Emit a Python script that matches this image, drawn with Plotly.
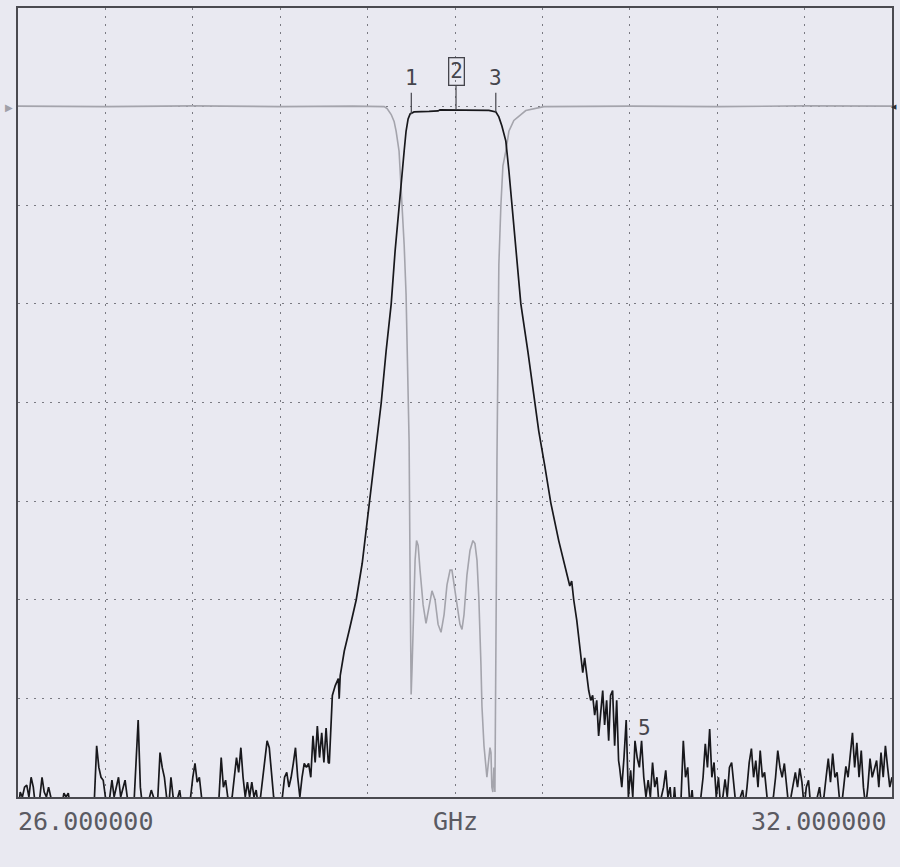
import numpy as np
import plotly.graph_objects as go

# ---------------- data (GHz / dB) ----------------
F_START, F_STOP = 26.0, 32.0

# S21 noise floor, left of the passband (uniform sweep points)
s21_noise_left_span = (26.0, 28.13)
s21_noise_left_db = [
    -72, -69.5, -70, -69, -68.8, -70, -68, -69, -71, -72,
    -70, -68, -69.5, -70, -69, -70, -72, -72, -71, -72,
    -71, -69.6, -70, -69.6, -71, -72, -72, -71, -72, -72,
    -71, -72, -72, -71, -72, -70, -64.8, -67, -68, -68.3,
    -70, -71, -70, -68.3, -70, -69, -68, -70, -69, -68.3,
    -70, -71, -72, -71, -66.3, -62.2, -69, -71, -72, -71,
    -70, -69.3, -70, -72, -70, -65.5, -67, -68, -70, -71,
    -68, -70, -71, -70, -69.3, -71, -72, -72, -71, -70,
    -68, -66.6, -68.5, -68, -70, -72, -72, -71, -72, -72,
    -71, -72, -70, -66, -69, -68.3, -70, -71, -70, -68,
    -66, -67.5, -65, -68, -70, -68.5, -70, -68.5, -70, -69.3,
    -71, -70, -68, -66, -64.3, -65, -68, -70, -71, -72,
    -71, -70, -68, -67.5, -69, -68, -66.6, -65, -68, -70,
    -68, -66.6, -67, -66.6, -68, -63.8, -66.5, -62.8, -66, -63.5,
    -66.5, -63, -66.5,
]

# S21 skirts and passband
s21_band_f = [
    28.137, 28.158, 28.178, 28.199, 28.205, 28.212, 28.240, 28.274, 28.322, 28.363,
    28.411, 28.445, 28.473, 28.493, 28.527, 28.562, 28.589, 28.616, 28.637, 28.651,
    28.664, 28.678, 28.692, 28.719, 28.822, 28.884, 28.897, 29.007, 29.233, 29.281,
    29.301, 29.322, 29.349, 29.370, 29.390, 29.418, 29.452, 29.500, 29.548, 29.575,
    29.616, 29.658, 29.712, 29.747, 29.774, 29.788, 29.801, 29.815, 29.836, 29.863,
    29.877, 29.890, 29.904, 29.918, 29.932, 29.945, 29.959, 29.973, 29.986, 30.000,
    30.014, 30.027, 30.041, 30.055, 30.068, 30.082, 30.096, 30.110, 30.123,
]
s21_band_db = [
    -66.6, -59.7, -58.7, -58.0, -60.0, -57.7, -55.2, -53.1, -50.0, -46.3,
    -40.2, -36.2, -32.9, -30.1, -24.8, -20.0, -14.6, -9.9, -6.5, -4.5,
    -2.5, -1.25, -0.74, -0.54, -0.49, -0.44, -0.33, -0.33, -0.38, -0.54,
    -1.04, -1.96, -3.5, -6.5, -9.9, -14.6, -20.0, -24.8, -30.1, -32.9,
    -36.4, -40.2, -44.0, -46.0, -47.6, -48.6, -48.1, -50.0, -52.1, -55.2,
    -57.4, -55.9, -57.7, -59.2, -60.2, -59.7, -61.7, -60.2, -63.8, -61.2,
    -59.2, -62.7, -60.2, -64.3, -59.7, -59.2, -64.8, -60.2, -66.3,
]

# S21 noise floor, right of the passband (uniform sweep points)
s21_noise_right_span = (30.13, 32.0)
s21_noise_right_db = [
    -67, -69, -66, -62.2, -70, -67.3, -70, -64.3, -66, -67,
    -64.3, -68, -70, -68.3, -70, -66.5, -69, -68, -71, -70,
    -69, -67.3, -70, -69, -72, -69, -72, -71, -70, -64.3,
    -68, -67, -71, -69.3, -72, -71, -72, -70, -68, -64.6,
    -67, -63.1, -68, -66.5, -70, -68, -71, -70, -68.2, -70,
    -67, -66.5, -68.5, -71, -72, -70, -69.3, -71, -69, -66.5,
    -65.1, -68, -66.3, -69, -65.3, -68, -67.5, -70, -72, -71,
    -70, -68, -65.3, -67, -68, -66.6, -69, -71, -70, -68.5,
    -67.5, -69, -67.1, -68.5, -71, -69, -68.3, -71, -72, -71,
    -70, -69, -71, -70, -68, -66.1, -68.5, -65.6, -68, -67.5,
    -70, -71, -69, -66.9, -68, -66, -63.5, -67, -64.5, -68,
    -65.3, -69, -71, -69, -66.1, -68, -67, -66.3, -69, -65.5,
    -68, -64.8, -67, -69, -68,
]

# S11 (return loss) trace
s11_f = [
    26.0, 26.6, 27.2, 27.8, 28.3,
    28.514, 28.534, 28.562, 28.582, 28.596,
    28.616, 28.630, 28.637, 28.651, 28.664,
    28.678, 28.685, 28.692, 28.699, 28.705,
    28.712, 28.726, 28.736, 28.747, 28.760,
    28.781, 28.801, 28.822, 28.842, 28.863,
    28.884, 28.904, 28.925, 28.945, 28.966,
    28.979, 28.993, 29.014, 29.034, 29.048,
    29.062, 29.082, 29.103, 29.123, 29.137,
    29.151, 29.164, 29.178, 29.185, 29.199,
    29.212, 29.219, 29.233, 29.240, 29.247,
    29.253, 29.260, 29.267, 29.274, 29.281,
    29.284, 29.288, 29.295, 29.301, 29.315,
    29.329, 29.349, 29.370, 29.404, 29.486,
    29.610, 30.2, 30.8, 31.4, 32.0,
]
s11_db = [
    0.05, 0.0, 0.08, 0.0, 0.05,
    0.0, -0.2, -0.8, -1.5, -2.5,
    -4.5, -8.0, -10.0, -14.0, -19.0,
    -28.0, -34.0, -48.0, -59.6, -57.0,
    -53.0, -46.0, -44.0, -44.5, -47.0,
    -50.5, -52.4, -50.5, -49.1, -50.0,
    -52.5, -53.3, -51.5, -48.5, -47.0,
    -47.0, -48.5, -50.5, -52.5, -53.0,
    -51.5, -47.5, -45.0, -44.0, -44.3,
    -46.0, -50.0, -56.5, -60.8, -64.8,
    -67.0, -68.0, -66.0, -65.0, -65.5,
    -69.0, -69.5, -67.0, -69.5, -58.0,
    -48.0, -36.0, -24.0, -16.0, -10.0,
    -6.0, -4.5, -2.5, -1.4, -0.4,
    0.0, 0.05, 0.0, 0.08, 0.05,
]

# markers
marker_labels = ["1", "2", "3"]
marker_f = [28.70, 29.007, 29.28]
marker_db = [-0.74, -0.33, -0.54]
marker5_label = "5"
marker5_f = 30.30
marker5_db = -63.0

start_label = "26.000000"
stop_label = "32.000000"
unit_label = "GHz"

# ---------------- build ----------------
f_left = np.linspace(*s21_noise_left_span, len(s21_noise_left_db))
f_right = np.linspace(*s21_noise_right_span, len(s21_noise_right_db))
s21_f = np.concatenate([f_left, s21_band_f, f_right])
s21_db = np.concatenate([s21_noise_left_db, s21_band_db, s21_noise_right_db])

BG = "#e9e9f1"
GRID = "#7a7a82"
TXT = "#5a5a62"
MONO = "DejaVu Sans Mono"

fig = go.Figure()
fig.add_trace(go.Scatter(x=s11_f, y=s11_db, mode="lines",
                         line=dict(color="#a4a4ac", width=1.6), hoverinfo="skip"))
fig.add_trace(go.Scatter(x=s21_f, y=s21_db, mode="lines",
                         line=dict(color="#18181c", width=1.7), hoverinfo="skip"))

# marker stems
for lab, f, d in zip(marker_labels, marker_f, marker_db):
    top = 2.1 if lab == "2" else 1.4
    fig.add_trace(go.Scatter(x=[f, f], y=[d, top], mode="lines",
                             line=dict(color="#45454c", width=1.2), hoverinfo="skip"))
    if lab == "2":
        fig.add_annotation(x=f, y=top, yanchor="bottom", text=lab, showarrow=False,
                           font=dict(family=MONO, size=21, color="#45454c"),
                           bordercolor="#45454c", borderwidth=1.3, borderpad=1)
    else:
        fig.add_annotation(x=f, y=1.5, yanchor="bottom", text=lab, showarrow=False,
                           font=dict(family=MONO, size=21, color="#45454c"))

fig.add_annotation(x=marker5_f, y=marker5_db, text=marker5_label, showarrow=False,
                   font=dict(family=MONO, size=21, color="#45454c"))

# reference position indicators
fig.add_annotation(xref="paper", x=0, y=0, xanchor="right", text="▶", showarrow=False,
                   font=dict(size=10, color="#a0a0a8"), xshift=-3)
fig.add_annotation(xref="paper", x=1, y=0, xanchor="center", text="◀", showarrow=False,
                   font=dict(size=7, color="#303034"), xshift=2)

# frequency labels
fig.add_annotation(xref="paper", yref="paper", x=0, y=0, xanchor="left", yanchor="top",
                   yshift=-8, xshift=-2, text=start_label, showarrow=False,
                   font=dict(family=MONO, size=25, color=TXT))
fig.add_annotation(xref="paper", yref="paper", x=0.5, y=0, xanchor="center", yanchor="top",
                   yshift=-8, text=unit_label, showarrow=False,
                   font=dict(family=MONO, size=25, color=TXT))
fig.add_annotation(xref="paper", yref="paper", x=0.9954, y=0, xanchor="right", yanchor="top",
                   yshift=-8, text=stop_label, showarrow=False,
                   font=dict(family=MONO, size=25, color=TXT))

axis_common = dict(showticklabels=False, ticks="", zeroline=False,
                   showgrid=True, gridcolor=GRID, gridwidth=1.4, griddash="2px,6px",
                   showline=True, linecolor="#4a4a50", linewidth=1.5, mirror=True)

fig.update_xaxes(range=[F_START, F_STOP], dtick=0.6, tick0=F_START, **axis_common)
fig.update_yaxes(range=[-70, 10], dtick=10, tick0=0, **axis_common)

fig.update_layout(width=900, height=867, showlegend=False,
                  margin=dict(l=18, r=6, t=8, b=70),
                  paper_bgcolor=BG, plot_bgcolor=BG)

fig.write_html("out.html",
               config={"displayModeBar": False},
               post_script="document.body.style.margin='0px';"
                           "document.body.style.overflow='hidden';"
                           "document.body.style.background='" + BG + "';")
